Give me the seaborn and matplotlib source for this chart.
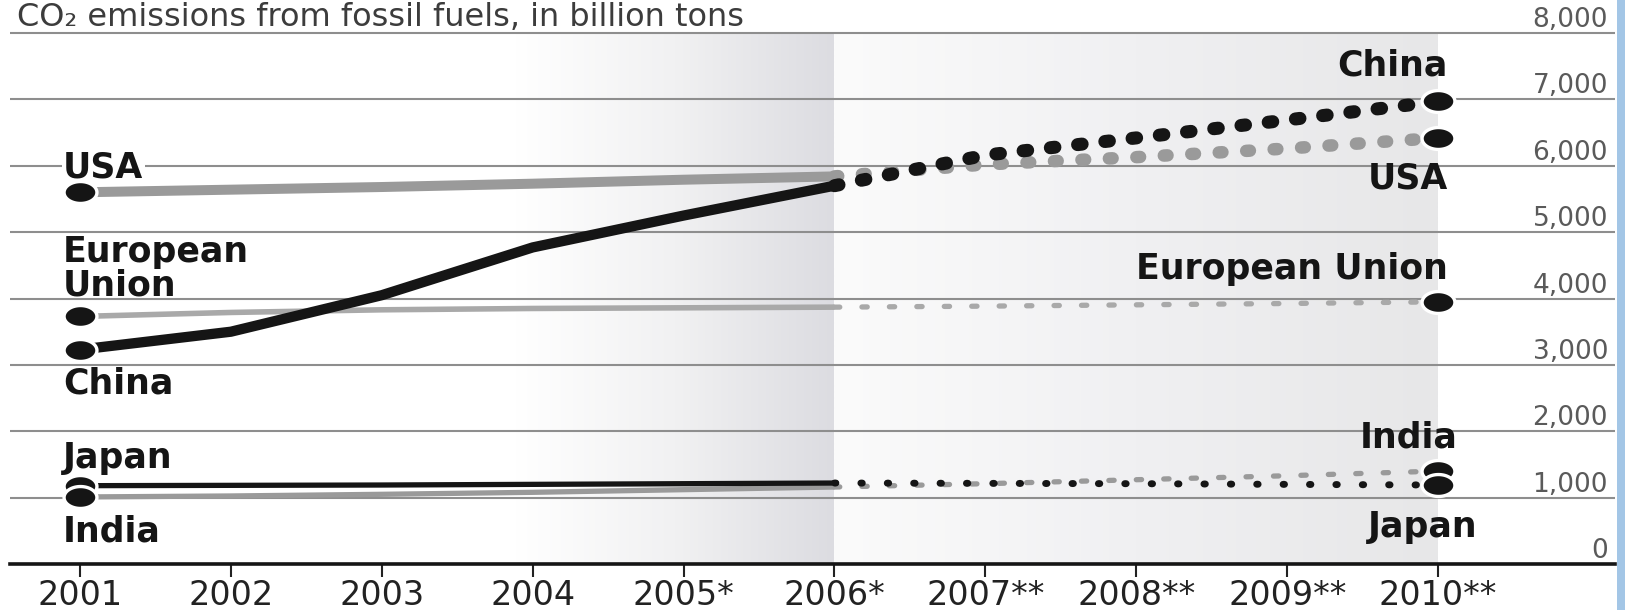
import numpy as np
import pandas as pd
import matplotlib
matplotlib.use("Agg")
import matplotlib.pyplot as plt
import seaborn as sns
from matplotlib.path import Path
from matplotlib.markers import MarkerStyle
from matplotlib.colors import LinearSegmentedColormap
from matplotlib.patches import Rectangle

# ---- data -------------------------------------------------------------
years = [2001, 2002, 2003, 2004, 2005, 2006, 2007, 2008, 2009, 2010]
year_labels = ["2001", "2002", "2003", "2004", "2005*", "2006*",
               "2007**", "2008**", "2009**", "2010**"]
china = [3230, 3500, 4050, 4770, 5250, 5700, 6160, 6420, 6690, 6970]
usa = [5600, 5640, 5680, 5730, 5790, 5840, 6020, 6130, 6260, 6420]
eu = [3730, 3790, 3830, 3850, 3860, 3870, 3885, 3905, 3925, 3950]
japan = [1180, 1185, 1190, 1200, 1210, 1220, 1215, 1210, 1200, 1190]
india = [1010, 1025, 1050, 1080, 1120, 1160, 1210, 1270, 1330, 1400]
y_ticks = [0, 1000, 2000, 3000, 4000, 5000, 6000, 7000, 8000]
y_tick_labels = ["0", "1,000", "2,000", "3,000", "4,000",
                 "5,000", "6,000", "7,000", "8,000"]
last_actual_year = 2006
title = "CO\u2082 emissions from fossil fuels, in billion tons"

series = {"USA": usa, "European Union": eu, "India": india,
          "China": china, "Japan": japan}
df = pd.DataFrame(
    [(name, yr, val) for name, vals in series.items() for yr, val in zip(years, vals)],
    columns=["country", "year", "value"],
)
order = list(series.keys())  # grey series first so black ones sit on top

# ---- figure -----------------------------------------------------------
sns.set_theme(style="white")
plt.rcParams["font.family"] = ["DejaVu Sans"]

W, H = 1625, 610
fig = plt.figure(figsize=(W / 100, H / 100), dpi=100)
fig.patch.set_facecolor("white")

x0_px, step_px = 80.0, 150.9        # where the first year sits, px per year
left_px, right_px = 10.0, 1615.0
zero_px, top_px = 564.0, 26.4       # y pixel of value 0 and of the axes top
ymax = 8100

ax = fig.add_axes([left_px / W, (H - zero_px) / H,
                   (right_px - left_px) / W, (zero_px - top_px) / H])


def fig_px(x, y):
    return (x / W, 1 - y / H)


# background shading: gradient up to the last measured year, then projections
left_cmap = LinearSegmentedColormap.from_list("hist", ["#ffffff", "#f1f1f2", "#dcdce1"])
right_cmap = LinearSegmentedColormap.from_list("proj", ["#fbfbfb", "#f0f0f2", "#e7e7e8"])
grad = np.linspace(0, 1, 256)[None, :]
ax.imshow(grad, extent=(2003.88, last_actual_year, 0, 8000), cmap=left_cmap,
          aspect="auto", zorder=0, interpolation="bilinear")
ax.imshow(grad, extent=(last_actual_year, 2010.0, 0, 8000), cmap=right_cmap,
          aspect="auto", zorder=0, interpolation="bilinear")

palette = {"China": "#151515", "USA": "#9a9a9a", "European Union": "#a9a9a9",
           "Japan": "#151515", "India": "#9a9a9a"}

# measured years: solid lines
actual = df[df["year"] <= last_actual_year]
sns.lineplot(data=actual, x="year", y="value", hue="country", hue_order=order,
             palette=palette, size="country", size_order=order,
             sizes={"China": 7.4, "USA": 7.2, "European Union": 4.0,
                    "Japan": 3.8, "India": 3.8},
             estimator=None, errorbar=None, legend=False, ax=ax,
             solid_capstyle="butt", zorder=2)

# estimates: dotted / dashed lines
projected = df[df["year"] >= last_actual_year]
sns.lineplot(data=projected, x="year", y="value", hue="country", hue_order=order,
             palette=palette, size="country", size_order=order,
             sizes={"China": 9.4, "USA": 9.0, "European Union": 3.8,
                    "Japan": 5.0, "India": 3.8},
             style="country", style_order=order,
             dashes={"China": (0.35, 1.75), "USA": (0.3, 1.9),
                     "European Union": (1.0, 4.2), "Japan": (0.2, 3.6),
                     "India": (1.0, 4.2)},
             estimator=None, errorbar=None, legend=False, ax=ax,
             dash_capstyle="round", zorder=2)

# end-point markers (lower values drawn last so they sit on top)
t = np.linspace(0, 2 * np.pi, 80)
ellipse = MarkerStyle(Path(np.column_stack([1.5 * np.cos(t), np.sin(t)]), closed=True))
ends = df[df["year"].isin([years[0], years[-1]])].sort_values("value", ascending=False)
sns.scatterplot(data=ends, x="year", y="value", marker=ellipse, s=560,
                color="#151515", edgecolor="white", linewidth=2.4,
                legend=False, ax=ax, zorder=4)

# axes, grid, ticks
ax.set_xlim(2001 + (left_px - x0_px) / step_px, 2001 + (right_px - x0_px) / step_px)
ax.set_ylim(0, ymax)
ax.grid(axis="y", color="#8e8e8e", linewidth=1.5)
ax.grid(axis="x", visible=False)
for side in ["left", "top", "right"]:
    ax.spines[side].set_visible(False)
ax.spines["bottom"].set_color("#151515")
ax.spines["bottom"].set_linewidth(2.6)
ax.spines["bottom"].set_zorder(3)
ax.set_xlabel("")
ax.set_ylabel("")

ax.set_xticks(years, year_labels)
ax.tick_params(axis="x", bottom=True, direction="out", length=9, width=1.5,
               color="#222222", pad=2, labelsize=24, labelcolor="#222222")

ax.yaxis.tick_right()
ax.set_yticks(y_ticks, y_tick_labels)
ax.tick_params(axis="y", right=False, length=0, pad=-5, labelsize=19,
               labelcolor="#5a5a5a")
for lab in ax.get_yticklabels():
    lab.set_horizontalalignment("right")
    lab.set_verticalalignment("bottom")

# title
fig.text(*fig_px(17, 26), title, transform=fig.transFigure, ha="left",
         va="baseline", fontsize=23, color="#3c3c3c")

# series names
lab_kw = dict(transform=fig.transFigure, va="baseline", fontsize=25,
              fontweight="bold", color="#151515")
# sits just above the grid but beneath lines and markers, masking the 6,000 rule
ax.text(*fig_px(63, 178), "USA", ha="left", zorder=1.5,
        bbox=dict(facecolor="white", edgecolor="none", pad=1), **lab_kw)
fig.text(*fig_px(63, 262), "European", ha="left", zorder=6, **lab_kw)
fig.text(*fig_px(63, 296), "Union", ha="left", zorder=6, **lab_kw)
fig.text(*fig_px(63, 394), "China", ha="left", zorder=6, **lab_kw)
fig.text(*fig_px(63, 468), "Japan", ha="left", zorder=6, **lab_kw)
fig.text(*fig_px(63, 541), "India", ha="left", zorder=6, **lab_kw)

fig.text(*fig_px(1448, 76), "China", ha="right", zorder=6, **lab_kw)
fig.text(*fig_px(1448, 189), "USA", ha="right", zorder=6, **lab_kw)
fig.text(*fig_px(1448, 279), "European Union", ha="right", zorder=6, **lab_kw)
fig.text(*fig_px(1458, 447), "India", ha="right", zorder=6, **lab_kw)
fig.text(*fig_px(1477, 537), "Japan", ha="right", zorder=6, **lab_kw)

# frame stripe on the right edge
fig.patches.append(Rectangle((1617 / W, 0), 8 / W, 1, transform=fig.transFigure,
                             facecolor="#a3c6e6", edgecolor="none"))

fig.savefig("out.png", dpi=100, facecolor="white")
